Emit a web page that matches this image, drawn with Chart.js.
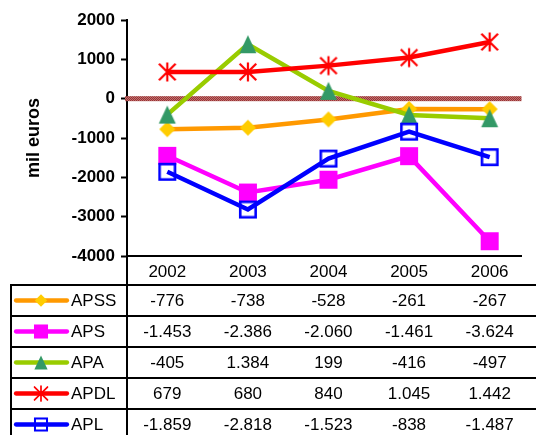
<!DOCTYPE html>
<html><head><meta charset="utf-8">
<script src="https://cdn.jsdelivr.net/npm/chart.js@4/dist/chart.umd.min.js"></script>
<style>
html,body{margin:0;padding:0;background:#fff;overflow:hidden}
#wrap{position:relative;width:536px;height:435px;overflow:hidden;background:#fff;font-family:"Liberation Sans",Arial,sans-serif}
#cbox{position:absolute;left:0;top:0;width:536px;height:286px}
.hl{position:absolute;height:2px;background:#000}
.vl{position:absolute;width:2px;background:#000}
.cell{position:absolute;font-size:17px;color:#000;white-space:nowrap}
.key{position:absolute}
</style></head><body>
<div id="wrap"><div id="cbox"><canvas id="c"></canvas></div><div id="tbl"></div></div>
<script>
// ---- data ----
const years = [2002, 2003, 2004, 2005, 2006];
const seriesNames = ['APSS', 'APS', 'APA', 'APDL', 'APL'];
const apss = [-776, -738, -528, -261, -267];
const aps = [-1453, -2386, -2060, -1461, -3624];
const apa = [-405, 1384, 199, -416, -497];
const apdl = [679, 680, 840, 1045, 1442];
const apl = [-1859, -2818, -1523, -838, -1487];
const yTicks = [2000, 1000, 0, -1000, -2000, -3000, -4000];
const yTitle = 'mil euros';

const seriesValues = [apss, aps, apa, apdl, apl];
const lineColors = ['#FF9900', '#FF00FF', '#99CC00', '#FF0000', '#0000FF'];
const markerKinds = ['diamond', 'square', 'triangle', 'star', 'openSquare'];
const FONT = '"Liberation Sans", Arial, sans-serif';

function drawMarker(ctx, kind, cx, cy, s) {
  ctx.save();
  if (kind === 'diamond') {
    const h = 8 * s;
    ctx.fillStyle = '#FFCC00';
    ctx.beginPath(); ctx.moveTo(cx, cy - h); ctx.lineTo(cx + h, cy); ctx.lineTo(cx, cy + h); ctx.lineTo(cx - h, cy); ctx.closePath(); ctx.fill();
  } else if (kind === 'square') {
    const h = 9 * s;
    ctx.fillStyle = '#FF00FF';
    ctx.fillRect(cx - h, cy - h, 2 * h, 2 * h);
  } else if (kind === 'triangle') {
    const w = 8.5 * s, h = 9 * s;
    ctx.fillStyle = '#339966';
    ctx.beginPath(); ctx.moveTo(cx, cy - h); ctx.lineTo(cx + w, cy + h); ctx.lineTo(cx - w, cy + h); ctx.closePath(); ctx.fill();
  } else if (kind === 'star') {
    ctx.strokeStyle = '#FF0000'; ctx.lineWidth = Math.max(1.5, 2.2 * s);
    const v = 9.5 * s, d = 8.3 * s;
    ctx.beginPath();
    ctx.moveTo(cx, cy - v); ctx.lineTo(cx, cy + v);
    ctx.moveTo(cx - d, cy - d); ctx.lineTo(cx + d, cy + d);
    ctx.moveTo(cx + d, cy - d); ctx.lineTo(cx - d, cy + d);
    ctx.stroke();
  } else if (kind === 'openSquare') {
    const h = 9 * s, lw = Math.max(1.5, 2.6 * s);
    ctx.strokeStyle = '#0000FF'; ctx.lineWidth = lw;
    ctx.strokeRect(cx - h + lw / 2, cy - h + lw / 2, 2 * h - lw, 2 * h - lw);
  }
  ctx.restore();
}
function makeMarkerImage(kind) {
  const c = document.createElement('canvas');
  c.width = 24; c.height = 24;
  drawMarker(c.getContext('2d'), kind, 12, 12, 1);
  return c;
}
const markerImages = markerKinds.map(makeMarkerImage);

function fmtNum(v) {
  const neg = v < 0; const a = Math.abs(v);
  let s = String(a);
  if (a >= 1000) s = s.slice(0, s.length - 3) + '.' + s.slice(s.length - 3);
  return (neg ? '-' : '') + s;
}

// zero line with hatched texture
const pat = document.createElement('canvas'); pat.width = 2; pat.height = 2;
(function () { const p = pat.getContext('2d'); p.fillStyle = '#993333'; p.fillRect(0, 0, 2, 2); p.fillStyle = '#BF7070'; p.fillRect(1, 0, 1, 1); p.fillRect(0, 1, 1, 1); })();
const zeroLine = {
  id: 'zeroLine',
  beforeDatasetsDraw(chart) {
    const { ctx, chartArea, scales } = chart;
    const y0 = scales.y.getPixelForValue(0);
    ctx.save();
    ctx.fillStyle = ctx.createPattern(pat, 'repeat');
    ctx.fillRect(chartArea.left - 2, y0 - 2.5, chartArea.right - chartArea.left + 2, 5);
    ctx.restore();
  }
};

const chart = new Chart(document.getElementById('c'), {
  type: 'line',
  data: {
    datasets: seriesValues.map((vals, i) => ({
      label: seriesNames[i],
      data: years.map((yr, j) => ({ x: yr, y: vals[j] })),
      borderColor: lineColors[i],
      backgroundColor: lineColors[i],
      borderWidth: 4.5,
      pointStyle: markerImages[i],
      pointRadius: 10,
      pointHoverRadius: 10,
      fill: false,
      tension: 0,
      order: 5 - i,
      clip: false
    }))
  },
  options: {
    responsive: true,
    maintainAspectRatio: false,
    animation: false,
    events: [],
    layout: { padding: { left: 0, right: 0, top: 20, bottom: 0 } },
    plugins: { legend: { display: false }, tooltip: { enabled: false } },
    scales: {
      x: {
        type: 'linear', min: 2001.5, max: 2006.395,
        grid: { drawOnChartArea: false, drawTicks: false },
        border: { display: true, color: '#000', width: 2 },
        ticks: { font: { family: FONT, size: 17 }, color: '#000', padding: 6, maxRotation: 0, autoSkip: false, callback: v => String(v) },
        afterBuildTicks: a => { a.ticks = years.map(v => ({ value: v })); },
        afterFit: s => { s.height = 30; s.paddingLeft = 0; s.paddingRight = 0; }
      },
      y: {
        min: -4000, max: 2000,
        grid: { drawOnChartArea: false, drawTicks: true, tickLength: 6, tickWidth: 2, tickColor: '#000' },
        border: { color: '#000', width: 2 },
        ticks: { font: { family: FONT, size: 17, weight: 'bold' }, color: '#000', padding: 6, callback: v => String(v) },
        afterBuildTicks: a => { a.ticks = yTicks.map(v => ({ value: v })); },
        title: { display: true, text: yTitle, color: '#000', font: { family: FONT, size: 18, weight: 'bold' }, padding: { top: 23, bottom: 0 } },
        afterFit: s => { s.width = 127; s.paddingTop = 0; s.paddingBottom = 0; }
      }
    }
  },
  plugins: [zeroLine]
});

// ---- data table below the chart ----
(function buildTable() {
  const tbl = document.getElementById('tbl');
  const xs = chart.scales.x;
  const ca = chart.chartArea;
  const top0 = 284, rowH = 31, right = 540;
  function add(cls, css) { const d = document.createElement('div'); d.className = cls; Object.assign(d.style, css); tbl.appendChild(d); return d; }
  for (let i = 0; i <= seriesNames.length; i++) {
    add('hl', { left: '10px', top: (top0 + i * rowH) + 'px', width: (right - 10) + 'px' });
  }
  add('vl', { left: '10px', top: top0 + 'px', height: (435 - top0 + 10) + 'px' });
  add('vl', { left: (Math.round(ca.left) - 1) + 'px', top: Math.round(ca.bottom) + 'px', height: (445 - ca.bottom) + 'px' });
  seriesNames.forEach((name, i) => {
    const rt = top0 + 2 + i * rowH, rh = rowH - 2;
    const k = document.createElement('canvas'); k.width = 58; k.height = rh; k.className = 'key';
    Object.assign(k.style, { left: '12px', top: rt + 'px' });
    const kc = k.getContext('2d');
    kc.strokeStyle = lineColors[i]; kc.lineWidth = 4.3; kc.lineCap = 'round';
    kc.beginPath(); kc.moveTo(4, rh / 2); kc.lineTo(55, rh / 2); kc.stroke();
    drawMarker(kc, markerKinds[i], 29, rh / 2, 0.78);
    tbl.appendChild(k);
    const nm = add('cell', { left: '71px', top: rt + 'px', height: rh + 'px', lineHeight: rh + 'px' });
    nm.textContent = name;
    seriesValues[i].forEach((v, j) => {
      const px = xs.getPixelForValue(years[j]);
      const c = add('cell', { left: (px - 50) + 'px', width: '100px', textAlign: 'center', top: rt + 'px', height: rh + 'px', lineHeight: rh + 'px' });
      c.textContent = fmtNum(v);
    });
  });
})();
</script>
</body></html>
